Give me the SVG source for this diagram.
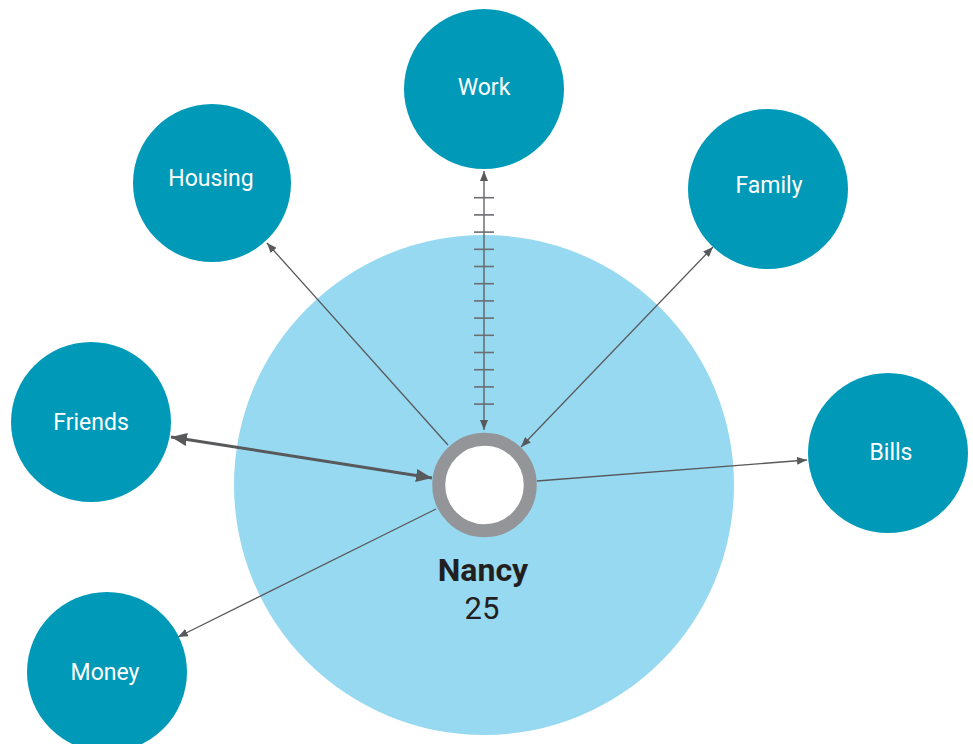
<svg xmlns="http://www.w3.org/2000/svg" width="973" height="744" viewBox="0 0 973 744">
<style>
.node{fill:#0099B8}
.lbl{fill:#ffffff;font-family:Roboto,"Liberation Sans",sans-serif;font-size:23px;text-anchor:middle}
.ln{stroke:#58595B;stroke-width:1.3;fill:none}
.thick{stroke:#58595B;stroke-width:3;fill:none}
.tick{stroke:#6D6E71;stroke-width:1.6}
</style>
<defs>
<marker id="ah" markerUnits="userSpaceOnUse" markerWidth="10" markerHeight="8" refX="10" refY="4" orient="auto-start-reverse" viewBox="0 0 10 8">
<path d="M0,0 L10,4 L0,8 Z" fill="#58595B"/>
</marker>
<marker id="ahb" markerUnits="userSpaceOnUse" markerWidth="16" markerHeight="13" refX="16" refY="6.5" orient="auto-start-reverse" viewBox="0 0 16 13">
<path d="M0,0 L16,6.5 L0,13 Z" fill="#58595B"/>
</marker>
</defs>
<rect width="973" height="744" fill="#ffffff"/>
<circle id="halo" cx="484" cy="485" r="250" fill="#97D9F1"/>
<g id="connectors">
<line class="ln" x1="484" y1="171" x2="484" y2="430" marker-start="url(#ah)" marker-end="url(#ah)"/>
<g class="tick">
<line x1="474" y1="197.7" x2="494" y2="197.7"/>
<line x1="474" y1="214.9" x2="494" y2="214.9"/>
<line x1="474" y1="232.1" x2="494" y2="232.1"/>
<line x1="474" y1="249.3" x2="494" y2="249.3"/>
<line x1="474" y1="266.5" x2="494" y2="266.5"/>
<line x1="474" y1="283.7" x2="494" y2="283.7"/>
<line x1="474" y1="300.9" x2="494" y2="300.9"/>
<line x1="474" y1="318.1" x2="494" y2="318.1"/>
<line x1="474" y1="335.3" x2="494" y2="335.3"/>
<line x1="474" y1="352.5" x2="494" y2="352.5"/>
<line x1="474" y1="369.7" x2="494" y2="369.7"/>
<line x1="474" y1="386.9" x2="494" y2="386.9"/>
<line x1="474" y1="404.1" x2="494" y2="404.1"/>
</g>
<line class="ln" x1="448" y1="445" x2="267" y2="243" marker-end="url(#ah)"/>
<line class="ln" x1="521" y1="447" x2="713" y2="247" marker-start="url(#ah)" marker-end="url(#ah)"/>
<line class="thick" x1="171" y1="437" x2="432" y2="478" marker-start="url(#ahb)" marker-end="url(#ahb)"/>
<line class="ln" x1="537" y1="481" x2="807" y2="460" marker-end="url(#ah)"/>
<line class="ln" x1="436" y1="509" x2="178" y2="637" marker-end="url(#ah)"/>
</g>
<g id="nancy">
<circle cx="484.5" cy="485" r="45.75" fill="#ffffff" stroke="#939598" stroke-width="13"/>
<text x="483" y="581" font-family="Roboto,'Liberation Sans',sans-serif" font-size="32" font-weight="bold" fill="#231F20" text-anchor="middle">Nancy</text>
<text x="482" y="619" font-family="Roboto,'Liberation Sans',sans-serif" font-size="31" fill="#231F20" text-anchor="middle">25</text>
</g>
<g id="work"><circle class="node" cx="484" cy="89" r="80"/><text class="lbl" x="484" y="95">Work</text></g>
<g id="housing"><circle class="node" cx="212" cy="183" r="79"/><text class="lbl" x="211" y="186">Housing</text></g>
<g id="family"><circle class="node" cx="768" cy="189" r="80"/><text class="lbl" x="769" y="193">Family</text></g>
<g id="friends"><circle class="node" cx="91" cy="422" r="80"/><text class="lbl" x="91" y="430">Friends</text></g>
<g id="bills"><circle class="node" cx="888" cy="453" r="80"/><text class="lbl" x="891" y="460">Bills</text></g>
<g id="money"><circle class="node" cx="107" cy="672" r="80"/><text class="lbl" x="105" y="680">Money</text></g>
</svg>
